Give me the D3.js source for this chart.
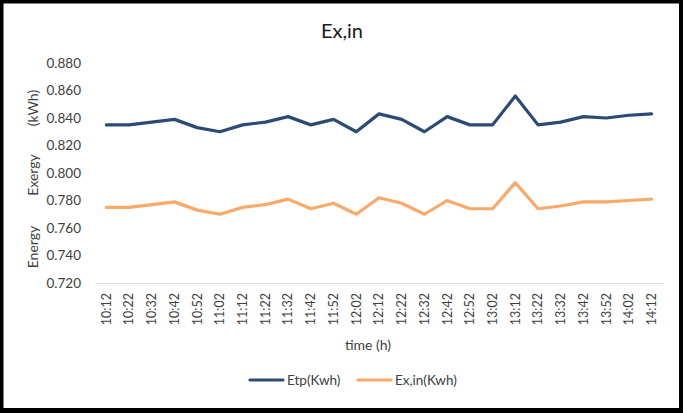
<!DOCTYPE html>
<html>
<head>
<meta charset="utf-8">
<script src="https://cdn.jsdelivr.net/npm/d3@7"></script>
<style>
  html, body { margin: 0; padding: 0; background: #fff; }
  svg { display: block; }
  text { font-family: Lato, "Open Sans", sans-serif; }
</style>
</head>
<body>
<script>
// chart data
const times = ["10:12","10:22","10:32","10:42","10:52","11:02","11:12","11:22","11:32","11:42",
  "11:52","12:02","12:12","12:22","12:32","12:42","12:52","13:02","13:12","13:22",
  "13:32","13:42","13:52","14:02","14:12"];
const etp = [0.835,0.835,0.837,0.839,0.833,0.830,0.835,0.837,0.841,0.835,
  0.839,0.830,0.843,0.839,0.830,0.841,0.835,0.835,0.856,0.835,
  0.837,0.841,0.840,0.842,0.843];
const exin = [0.775,0.775,0.777,0.779,0.773,0.770,0.775,0.777,0.781,0.774,
  0.778,0.770,0.782,0.778,0.770,0.780,0.774,0.774,0.793,0.774,
  0.776,0.779,0.779,0.780,0.781];
const yTicks = [0.72,0.74,0.76,0.78,0.80,0.82,0.84,0.86,0.88];
const seriesNames = ["Etp(Kwh)", "Ex,in(Kwh)"];
const seriesColors = ["#2c4a76", "#f9a968"];

const W = 685, H = 413;
const plot = {left: 95, right: 663, top: 63, bottom: 283};

const svg = d3.select("body").append("svg")
    .attr("width", W)
    .attr("height", H);

// outer frame
svg.append("rect").attr("x", 1.5).attr("y", 1.5).attr("width", 679.5).attr("height", 409.5)
    .attr("fill", "#fff").attr("stroke", "#000").attr("stroke-width", 4);
svg.append("rect").attr("x", 679).attr("y", 0).attr("width", 4).attr("height", 413).attr("fill", "#000");
svg.append("rect").attr("x", 0).attr("y", 408).attr("width", 683).attr("height", 5).attr("fill", "#000");

const x = d3.scaleBand().domain(times).range([plot.left, plot.right]);
const y = d3.scaleLinear().domain([0.72, 0.88]).range([plot.bottom, plot.top]);

// title
svg.append("text")
    .attr("x", 342).attr("y", 38)
    .attr("text-anchor", "middle")
    .style("font-size", "20px")
    .attr("fill", "#1a1a1a")
    .text("Ex,in");

// y axis (labels only)
const yAxis = svg.append("g")
    .attr("transform", `translate(${plot.left},0)`)
    .call(d3.axisLeft(y).tickValues(yTicks).tickFormat(d3.format(".3f")).tickSize(0).tickPadding(14));
yAxis.select(".domain").remove();
yAxis.selectAll("text").style("font-size", "13.5px").attr("fill", "#404040")
    .style("font-family", "Lato, 'Open Sans', sans-serif");

// x axis
const xAxis = svg.append("g")
    .attr("transform", `translate(0,${plot.bottom})`)
    .call(d3.axisBottom(x).tickSize(0));
xAxis.select(".domain").attr("stroke", "#d9d9d9").attr("stroke-width", 1.2);
xAxis.selectAll("text")
    .style("font-size", "12.5px")
    .style("font-family", "Lato, 'Open Sans', sans-serif")
    .attr("fill", "#404040")
    .attr("text-anchor", "end")
    .attr("transform", "rotate(-90)")
    .attr("x", -10).attr("y", 0).attr("dy", "0.35em");

// axis titles
svg.append("text")
    .attr("x", 368).attr("y", 350)
    .attr("text-anchor", "middle")
    .style("font-size", "14px")
    .attr("fill", "#404040")
    .text("time (h)");

[["Energy", 247], ["Exergy", 175], ["(kWh)", 108]].forEach(([t, cy]) => {
    svg.append("text")
        .attr("transform", `translate(38,${cy}) rotate(-90)`)
        .attr("text-anchor", "middle")
        .style("font-size", "14px")
        .attr("fill", "#404040")
        .text(t);
});

// lines
const line = d3.line()
    .x((d, i) => x(times[i]) + x.bandwidth() / 2)
    .y(d => y(d));

[etp, exin].forEach((vals, i) => {
    svg.append("path")
        .datum(vals)
        .attr("fill", "none")
        .attr("stroke", seriesColors[i])
        .attr("stroke-width", 3.2)
        .attr("stroke-linejoin", "round")
        .attr("stroke-linecap", "round")
        .attr("d", line);
});

// legend
const legendX = [250, 358];
seriesNames.forEach((name, i) => {
    const g = svg.append("g").attr("transform", `translate(${legendX[i]},380)`);
    g.append("line").attr("x1", 0).attr("x2", 33).attr("y1", 0).attr("y2", 0)
        .attr("stroke", seriesColors[i]).attr("stroke-width", 3.2).attr("stroke-linecap", "round");
    g.append("text").attr("x", 37).attr("y", 0).attr("dy", "0.35em")
        .style("font-size", "13.5px").attr("fill", "#404040").text(name);
});
</script>
</body>
</html>
